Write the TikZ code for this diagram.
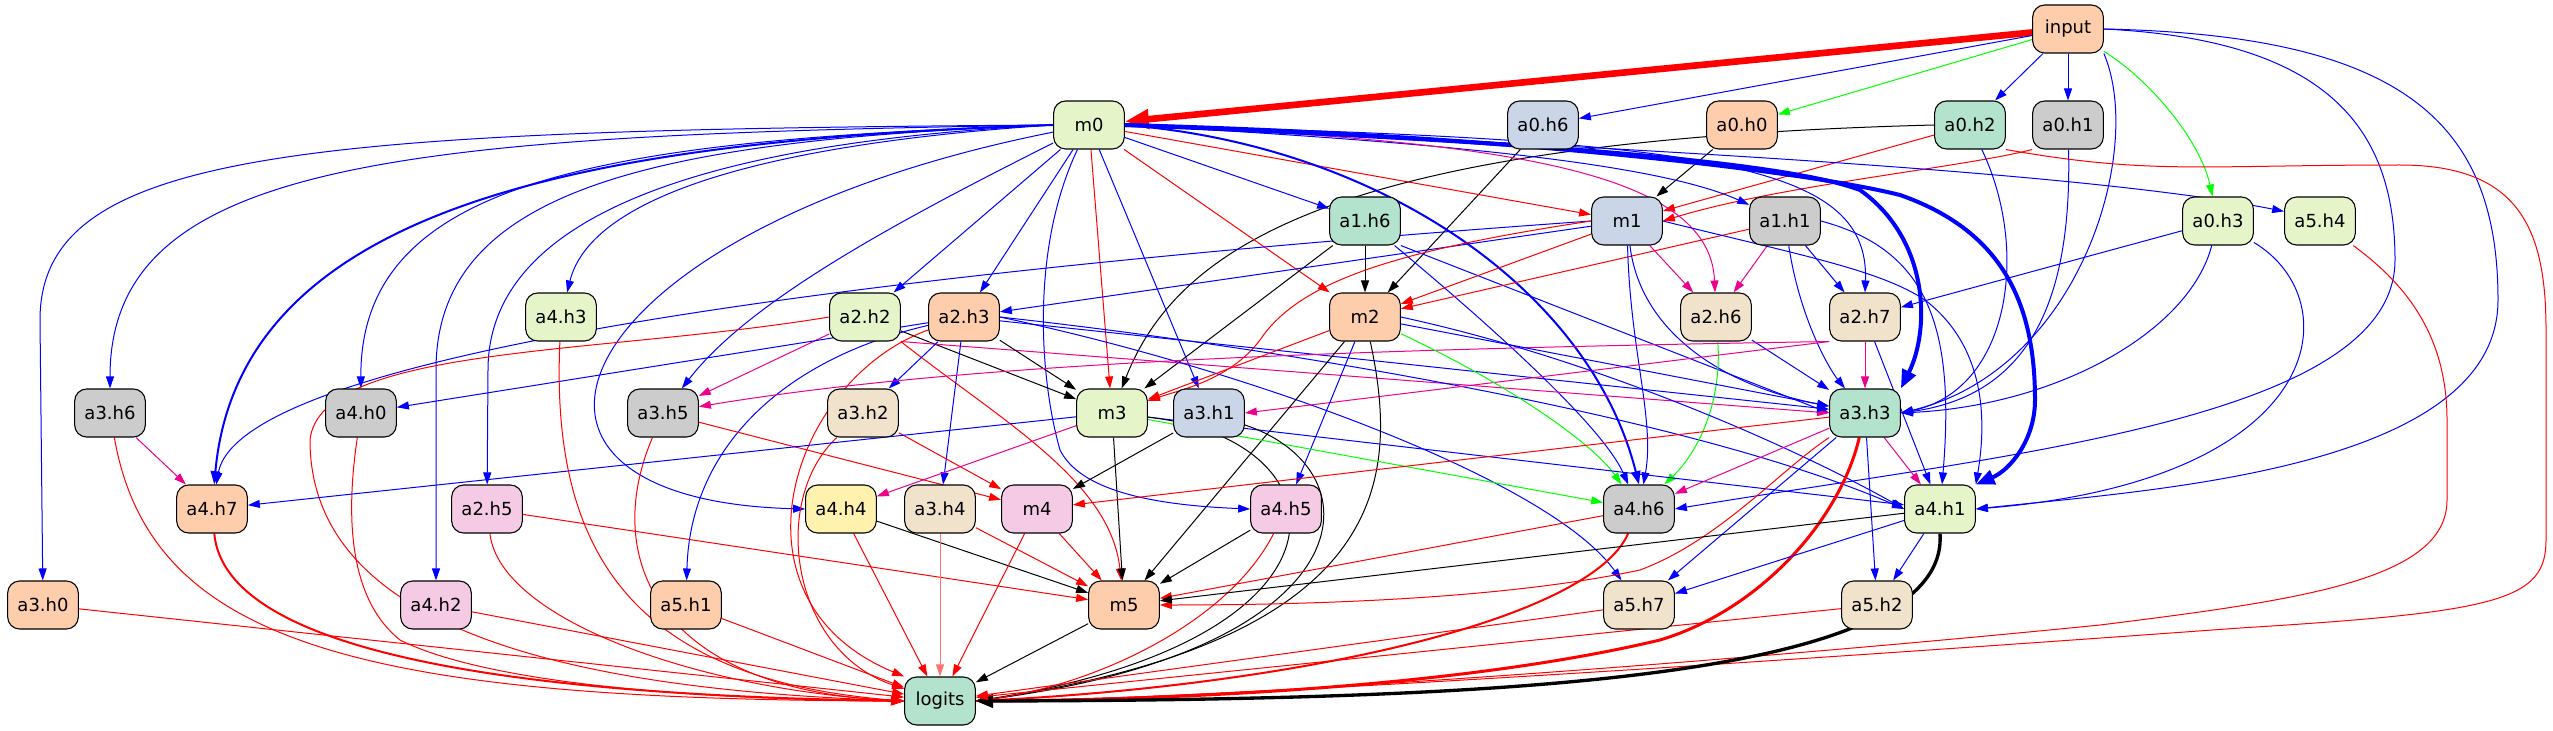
\documentclass[tikz,border=0pt]{standalone}
\usepackage{fontspec}
\setmainfont{DejaVu Sans}
\usetikzlibrary{arrows.meta,backgrounds}

\definecolor{cpeach}{HTML}{FDCDAC}
\definecolor{cgreen}{HTML}{E6F5C9}
\definecolor{cteal}{HTML}{B3E2CD}
\definecolor{cblue}{HTML}{CBD5E8}
\definecolor{cpink}{HTML}{F4CAE4}
\definecolor{cgrey}{HTML}{CCCCCC}
\definecolor{cbeige}{HTML}{F1E2CC}
\definecolor{cyellow}{HTML}{FFF2AE}

\tikzset{
  head/.style={draw,line width=0.8pt,rounded corners=9pt,minimum width=53pt,
    minimum height=36pt,inner xsep=7pt,font=\fontsize{13.5}{16}\selectfont},
  link/.style={line width=0.75pt,-{Triangle[length=9pt,width=6pt]}},
  eblue/.style={link,draw=blue},
  ered/.style={link,draw=red},
  eblack/.style={link,draw=black},
  emag/.style={link,draw=magenta},
  egreen/.style={link,draw=green},
}

\begin{document}
\begin{tikzpicture}[x=0.75pt,y=-0.75pt]
\useasboundingbox (0,0) rectangle (2553,731);

%Input
\node[head,fill=cpeach] (input) at (2068,29){input};

%Layer 0
\node[head,fill=cgreen] (m0) at (1089,125){m0};
\node[head,fill=cblue] (a0h6) at (1543,125){a0.h6};
\node[head,fill=cpeach] (a0h0) at (1742,125){a0.h0};
\node[head,fill=cteal] (a0h2) at (1970,125){a0.h2};
\node[head,fill=cgrey] (a0h1) at (2068,125){a0.h1};

%Layer 1
\node[head,fill=cteal] (a1h6) at (1365,221){a1.h6};
\node[head,fill=cblue] (m1) at (1627,221){m1};
\node[head,fill=cgrey] (a1h1) at (1785,221){a1.h1};
\node[head,fill=cgreen] (a0h3) at (2218,221){a0.h3};
\node[head,fill=cgreen] (a5h4) at (2320,221){a5.h4};

%Layer 2
\node[head,fill=cgreen] (a4h3) at (561,317){a4.h3};
\node[head,fill=cgreen] (a2h2) at (865,317){a2.h2};
\node[head,fill=cpeach] (a2h3) at (964,317){a2.h3};
\node[head,fill=cpeach] (m2) at (1365,317){m2};
\node[head,fill=cbeige] (a2h6) at (1716,317){a2.h6};
\node[head,fill=cbeige] (a2h7) at (1865,317){a2.h7};

%Layer 3
\node[head,fill=cgrey] (a3h6) at (110,413){a3.h6};
\node[head,fill=cgrey] (a4h0) at (361,413){a4.h0};
\node[head,fill=cgrey] (a3h5) at (663,413){a3.h5};
\node[head,fill=cbeige] (a3h2) at (863,413){a3.h2};
\node[head,fill=cgreen] (m3) at (1112,413){m3};
\node[head,fill=cblue] (a3h1) at (1209,413){a3.h1};
\node[head,fill=cteal] (a3h3) at (1865,413){a3.h3};

%Layer 4
\node[head,fill=cpeach] (a4h7) at (212,509){a4.h7};
\node[head,fill=cpink] (a2h5) at (487,509){a2.h5};
\node[head,fill=cyellow] (a4h4) at (841,509){a4.h4};
\node[head,fill=cbeige] (a3h4) at (940,509){a3.h4};
\node[head,fill=cpink] (m4) at (1037,509){m4};
\node[head,fill=cpink] (a4h5) at (1286,509){a4.h5};
\node[head,fill=cgrey] (a4h6) at (1639,509){a4.h6};
\node[head,fill=cgreen] (a4h1) at (1940,509){a4.h1};

%Layer 5
\node[head,fill=cpeach] (a3h0) at (43,605){a3.h0};
\node[head,fill=cpink] (a4h2) at (436,605){a4.h2};
\node[head,fill=cpeach] (a5h1) at (686,605){a5.h1};
\node[head,fill=cpeach] (m5) at (1124,605){m5};
\node[head,fill=cbeige] (a5h7) at (1639,605){a5.h7};
\node[head,fill=cbeige] (a5h2) at (1877,605){a5.h2};

%Output
\node[head,fill=cteal] (logits) at (940,701){logits};

\begin{scope}[on background layer]
%%%%%%%%%%%%%%%%% from input %%%%%%%%%%%%%%%%%
\draw[ered,line width=5pt,-{Triangle[length=18pt,width=14pt]}] (input) -- (m0);
\draw[eblue] (input) -- (a0h6);
\draw[egreen] (input) -- (a0h0);
\draw[eblue] (input) -- (a0h2);
\draw[eblue] (input) -- (a0h1);
\draw[egreen] (input) .. controls (2150,80) and (2200,140) .. (a0h3);
\draw[eblue] (input.south east) .. controls (2145,150) and (2080,370) .. (a3h3.east);
\draw[eblue] (input.east) .. controls (2330,40) and (2395,130) .. (2395,260)
  .. controls (2395,420) and (2000,455) .. (a4h6.east);
\draw[eblue] (input.east) .. controls (2400,35) and (2498,120) .. (2498,300)
  .. controls (2498,470) and (2150,490) .. (a4h1.east);

%%%%%%%%%%%%%%%%% attention 0 %%%%%%%%%%%%%%%%%
\draw[eblack] (a0h6) -- (m2);
\draw[eblack] (a0h0) -- (m1);
\draw[ered] (a0h2) -- (m1);
\draw[ered] (a0h1.south west) .. controls (1960,168) and (1780,185) .. (m1.east);
\draw[eblack] (a0h2.west) .. controls (1350,140) and (1180,240) .. (m3);
\draw[eblue] (a0h2) .. controls (2030,250) and (2010,390) .. (a3h3.east);
\draw[eblue] (a0h1) .. controls (2072,300) and (2030,395) .. (a3h3.east);
\draw[eblue] (a0h3) -- (a2h7);
\draw[eblue] (a0h3) .. controls (2190,330) and (2060,405) .. (a3h3.east);
\draw[eblue] (a0h3) .. controls (2350,300) and (2330,480) .. (a4h1.east);
\draw[ered] (a0h2.south east) .. controls (2150,175) and (2200,165) .. (2400,165)
  .. controls (2520,165) and (2546,230) .. (2546,330) -- (2546,540)
  .. controls (2546,600) and (2500,612) .. (2240,628)
  .. controls (1800,660) and (1200,700) .. (logits.east);
\draw[ered] (a5h4) .. controls (2400,280) and (2447,330) .. (2447,420) -- (2447,500)
  .. controls (2447,580) and (2300,600) .. (2100,625)
  .. controls (1700,665) and (1200,700) .. (logits.east);

%%%%%%%%%%%%%%%%% mlp 0 %%%%%%%%%%%%%%%%%
\draw[eblue] (m0) -- (a1h6);
\draw[ered] (m0) -- (m1);
\draw[eblue] (m0.east) .. controls (1400,140) and (1650,160) .. (a1h1);
\draw[ered] (m0) -- (m2);
\draw[ered] (m0) -- (m3);
\draw[eblue] (m0) -- (a3h1);
\draw[emag] (m0.east) .. controls (1500,140) and (1710,170) .. (a2h6);
\draw[eblue] (m0.east) .. controls (1700,140) and (1870,160) .. (a2h7.north);
\draw[eblue,line width=3pt,-{Triangle[length=14pt,width=11pt]}] (m0.east)
  .. controls (1500,140) and (1780,160) .. (1860,190)
  .. controls (1930,240) and (1930,330) .. (a3h3.north east);
\draw[eblue,line width=3pt,-{Triangle[length=14pt,width=11pt]}] (m0.east)
  .. controls (1500,135) and (1800,170) .. (1900,195)
  .. controls (2000,230) and (2035,300) .. (2035,400)
  .. controls (2035,440) and (2010,470) .. (a4h1.north east);
\draw[eblue,line width=1.5pt,-{Triangle[length=10pt,width=7pt]}] (m0.east) .. controls (1380,145) and (1590,290) .. (a4h6.north);
\draw[eblue] (m0.east) .. controls (1700,150) and (2100,175) .. (a5h4.165);
\draw[eblue] (m0.west) .. controls (300,130) and (40,150) .. (40,320) -- (a3h0);
\draw[eblue] (m0.west) .. controls (400,135) and (110,160) .. (a3h6);
\draw[eblue,line width=1.5pt,-{Triangle[length=10pt,width=7pt]}] (m0.west) .. controls (600,140) and (240,200) .. (a4h7);
\draw[eblue] (m0.west) .. controls (600,140) and (360,180) .. (a4h0);
\draw[eblue] (m0.west) .. controls (650,140) and (436,190) .. (436,370) -- (a4h2);
\draw[eblue] (m0.west) .. controls (750,140) and (488,200) .. (488,370) -- (a2h5);
\draw[eblue] (m0.west) .. controls (750,145) and (590,200) .. (a4h3);
\draw[eblue] (m0) .. controls (560,230) and (450,500) .. (a4h4.west);
\draw[eblue] (m0) .. controls (900,220) and (750,300) .. (a3h5);
\draw[eblue] (m0) -- (a2h2);
\draw[eblue] (m0) -- (a2h3);
\draw[eblue] (m0) .. controls (1030,250) and (1040,380) .. (1060,450)
  .. controls (1080,490) and (1150,505) .. (a4h5.west);

%%%%%%%%%%%%%%%%% attention 1 / mlp 1 %%%%%%%%%%%%%%%%%
\draw[eblack] (a1h6) -- (m2);
\draw[eblack] (a1h6) -- (m3);
\draw[eblue] (a1h6.south east) -- (a3h3.west);
\draw[eblue] (a1h6) .. controls (1460,300) and (1600,420) .. (a4h6);
\draw[ered] (a1h1) -- (m2);
\draw[emag] (a1h1) -- (a2h6);
\draw[eblue] (a1h1) -- (a2h7);
\draw[eblue] (a1h1) .. controls (1800,320) and (1830,370) .. (a3h3);
\draw[eblue] (a1h1.east) .. controls (1930,250) and (1955,330) .. (a4h1);
\draw[eblue] (m1) -- (a2h3);
\draw[eblue] (m1.west) .. controls (900,270) and (240,350) .. (a4h7);
\draw[ered] (m1) -- (m2);
\draw[ered] (m1.west) .. controls (1400,250) and (1300,280) .. (1260,340)
  .. controls (1230,380) and (1180,390) .. (m3);
\draw[emag] (m1) -- (a2h6);
\draw[eblue] (m1) .. controls (1640,330) and (1720,385) .. (a3h3);
\draw[eblue] (m1) .. controls (1630,350) and (1655,420) .. (a4h6);
\draw[eblue] (m1.east) .. controls (1800,255) and (1880,270) .. (1925,300)
  .. controls (1990,350) and (1985,430) .. (a4h1.north east);

%%%%%%%%%%%%%%%%% attention 2 / mlp 2 %%%%%%%%%%%%%%%%%
\draw[emag] (a2h2) -- (a3h5);
\draw[eblack] (a2h2) -- (m3);
\draw[emag] (a2h2.south east) -- (a3h3.west);
\draw[ered] (a2h2.south east) .. controls (1000,420) and (1110,480) .. (m5);
\draw[ered] (a2h2.west) .. controls (600,355) and (320,345) .. (310,440)
  .. controls (310,640) and (600,690) .. (logits.west);
\draw[eblue] (a2h3) -- (a4h0);
\draw[eblue] (a2h3) .. controls (780,360) and (690,450) .. (a5h1);
\draw[eblue] (a2h3) -- (a3h2);
\draw[eblue] (a2h3) -- (a3h4);
\draw[eblack] (a2h3) -- (m3);
\draw[ered] (a2h3) .. controls (790,380) and (720,600) .. (logits.north west);
\draw[eblue] (a2h3) -- (a3h3);
\draw[eblue] (a2h3.east) .. controls (1300,350) and (1700,420) .. (a4h1.west);
\draw[eblue] (a2h3.east) .. controls (1250,370) and (1550,480) .. (a5h7);
\draw[eblue] (a2h6) -- (a3h3);
\draw[egreen] (a2h6) .. controls (1722,400) and (1700,450) .. (a4h6);
\draw[emag] (a2h7) -- (a3h3);
\draw[emag] (a2h7.south west) .. controls (1300,350) and (950,365) .. (a3h5.10);
\draw[emag] (a2h7.south west) -- (a3h1.east);
\draw[eblue] (a2h7) -- (a4h1);
\draw[ered] (m2) -- (m3);
\draw[eblue] (m2) -- (a3h3);
\draw[eblue] (m2.east) .. controls (1600,360) and (1800,450) .. (a4h1.west);
\draw[egreen] (m2) .. controls (1500,380) and (1590,440) .. (a4h6);
\draw[eblue] (m2) -- (a4h5);
\draw[eblack] (m2) -- (m5);
\draw[eblack] (m2) .. controls (1400,480) and (1390,640) .. (logits.east);

%%%%%%%%%%%%%%%%% attention 3 / mlp 3 %%%%%%%%%%%%%%%%%
\draw[emag] (a3h6) -- (a4h7);
\draw[ered] (a3h6) .. controls (150,640) and (350,700) .. (logits.west);
\draw[ered] (a4h0) .. controls (345,520) and (350,600) .. (400,640)
  .. controls (500,690) and (750,700) .. (logits.west);
\draw[ered] (a3h5) -- (m4);
\draw[ered] (a3h5) .. controls (600,560) and (660,690) .. (logits.west);
\draw[ered] (a3h2) -- (m4);
\draw[ered] (a3h2) .. controls (770,500) and (790,650) .. (logits);
\draw[eblue] (m3) -- (a4h7);
\draw[emag] (m3) -- (a4h4);
\draw[eblack] (m3) -- (m5);
\draw[egreen] (m3) -- (a4h6);
\draw[eblue] (m3) -- (a4h1);
\draw[eblack] (m3) .. controls (1350,440) and (1370,640) .. (logits.east);
\draw[eblack] (a3h1) -- (m4);
\draw[eblack] (a3h1) .. controls (1380,470) and (1370,650) .. (logits.east);
\draw[ered] (a3h3) -- (m4);
\draw[emag] (a3h3) -- (a4h6);
\draw[emag] (a3h3) -- (a4h1);
\draw[eblue] (a3h3) -- (a5h7);
\draw[eblue] (a3h3) -- (a5h2);
\draw[ered] (a3h3.south west) .. controls (1780,470) and (1720,540) .. (1640,570)
  .. controls (1500,600) and (1300,605) .. (m5.east);
\draw[ered,line width=2.25pt,-{Triangle[length=12pt,width=9pt]}] (a3h3)
  .. controls (1840,520) and (1760,610) .. (1660,640)
  .. controls (1450,690) and (1150,700) .. (logits.east);

%%%%%%%%%%%%%%%%% attention 4 / mlp 4 %%%%%%%%%%%%%%%%%
\draw[ered] (a4h3) .. controls (550,560) and (640,680) .. (logits.west);
\draw[ered,line width=1.5pt,-{Triangle[length=10pt,width=7pt]}] (a4h7) .. controls (225,650) and (500,695) .. (logits.west);
\draw[ered] (a2h5) -- (m5);
\draw[ered] (a2h5) .. controls (500,620) and (700,690) .. (logits.west);
\draw[eblack] (a4h4) -- (m5);
\draw[ered] (a4h4) -- (logits);
\draw[ered] (a3h4) -- (m5);
\draw[ered,draw=red!55] (a3h4) -- (logits);
\draw[ered] (m4) -- (m5);
\draw[ered] (m4) -- (logits);
\draw[eblack] (a4h5) -- (m5);
\draw[ered] (a4h5) .. controls (1230,620) and (1100,685) .. (logits.east);
\draw[ered] (a4h6) -- (m5);
\draw[ered,line width=1.5pt,-{Triangle[length=10pt,width=7pt]}] (a4h6) .. controls (1590,620) and (1300,685) .. (logits.east);
\draw[eblack] (a4h1) -- (m5);
\draw[eblue] (a4h1) -- (a5h7);
\draw[eblue] (a4h1) -- (a5h2);
\draw[eblack,line width=2.5pt,-{Triangle[length=13pt,width=10pt]}] (a4h1.south) .. controls (1950,680) and (1500,700) .. (logits.east);

%%%%%%%%%%%%%%%%% into logits %%%%%%%%%%%%%%%%%
\draw[ered] (a3h0) -- (logits);
\draw[ered] (a4h2) -- (logits);
\draw[ered] (a5h1) -- (logits);
\draw[eblack] (m5) -- (logits);
\draw[ered] (a5h7) -- (logits);
\draw[ered] (a5h2) -- (logits);
\end{scope}

\end{tikzpicture}
\end{document}
